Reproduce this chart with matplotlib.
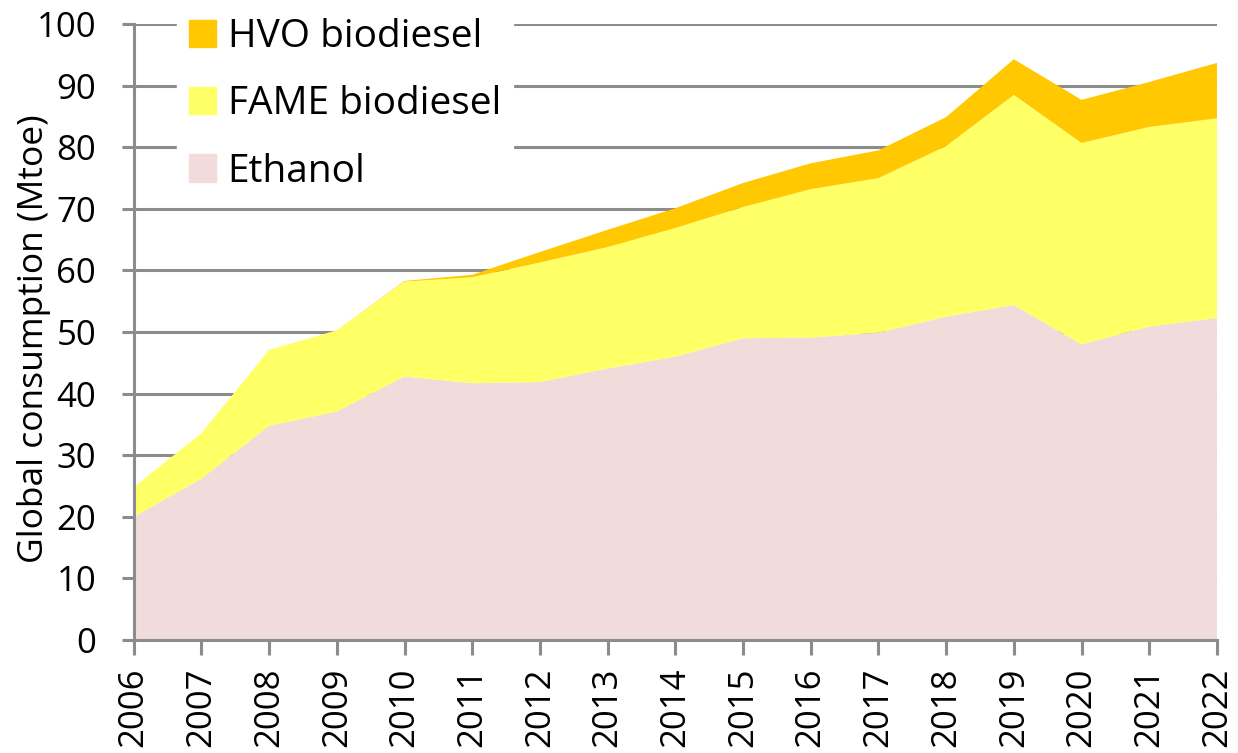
import numpy as np
import matplotlib.pyplot as plt
from matplotlib.patches import Patch

# Datos (Mtoe)
years = list(range(2006, 2023))
ethanol = [20.0, 26.2, 34.8, 37.1, 42.8, 41.7, 41.9, 44.1, 46.0, 49.0, 49.1, 49.9, 52.5, 54.4, 48.0, 50.9, 52.3]
fame = [4.8, 7.4, 12.3, 13.2, 15.4, 17.2, 19.4, 19.7, 20.9, 21.3, 24.1, 25.1, 27.7, 34.1, 32.7, 32.4, 32.4]
hvo = [0.0, 0.0, 0.0, 0.0, 0.1, 0.4, 1.7, 2.8, 3.2, 3.9, 4.2, 4.5, 4.7, 5.8, 7.0, 7.3, 9.0]

labels = ['Ethanol', 'FAME biodiesel', 'HVO biodiesel']
colors = ['#F2DCDB', '#FFFF66', '#FFC800']
grey = '#8C8C8C'

plt.rcParams['font.family'] = ['Open Sans', 'DejaVu Sans']

fig = plt.figure(figsize=(12.38, 7.53), dpi=100)
ax = fig.add_axes([0.108, 0.150, 0.875, 0.818])

ax.stackplot(years, ethanol, fame, hvo, colors=colors, linewidth=0)

ax.set_xlim(2006, 2022)
ax.set_ylim(0, 100)
ax.set_yticks(np.arange(0, 101, 10))
ax.set_xticks(years)
ax.set_xticklabels([str(y) for y in years], rotation=90)

ax.set_axisbelow(True)
ax.yaxis.grid(True, color=grey, linewidth=2.2)
for s in ['top', 'right']:
    ax.spines[s].set_visible(False)
for s in ['left', 'bottom']:
    ax.spines[s].set_color(grey)
    ax.spines[s].set_linewidth(2.2)
ax.tick_params(axis='both', colors=grey, width=2.2, length=9, labelsize=25, labelcolor='black')
ax.tick_params(axis='y', pad=18)
ax.tick_params(axis='x', length=11, pad=9)

ax.set_ylabel('Global consumption (Mtoe)', fontsize=25.5)
ax.yaxis.set_label_coords(-0.076, 0.49)

handles = [Patch(color=colors[2]), Patch(color=colors[1]), Patch(color=colors[0])]
leg = ax.legend(handles, ['HVO biodiesel', 'FAME biodiesel', 'Ethanol'],
                loc='upper left', bbox_to_anchor=(0.022, 1.06), fontsize=28,
                frameon=True, framealpha=1, edgecolor='white', fancybox=False,
                handlelength=0.7, handleheight=0.7, handletextpad=0.3,
                labelspacing=0.75, borderpad=0.3)
leg.set_zorder(5)

fig.savefig('out.png', dpi=100)
